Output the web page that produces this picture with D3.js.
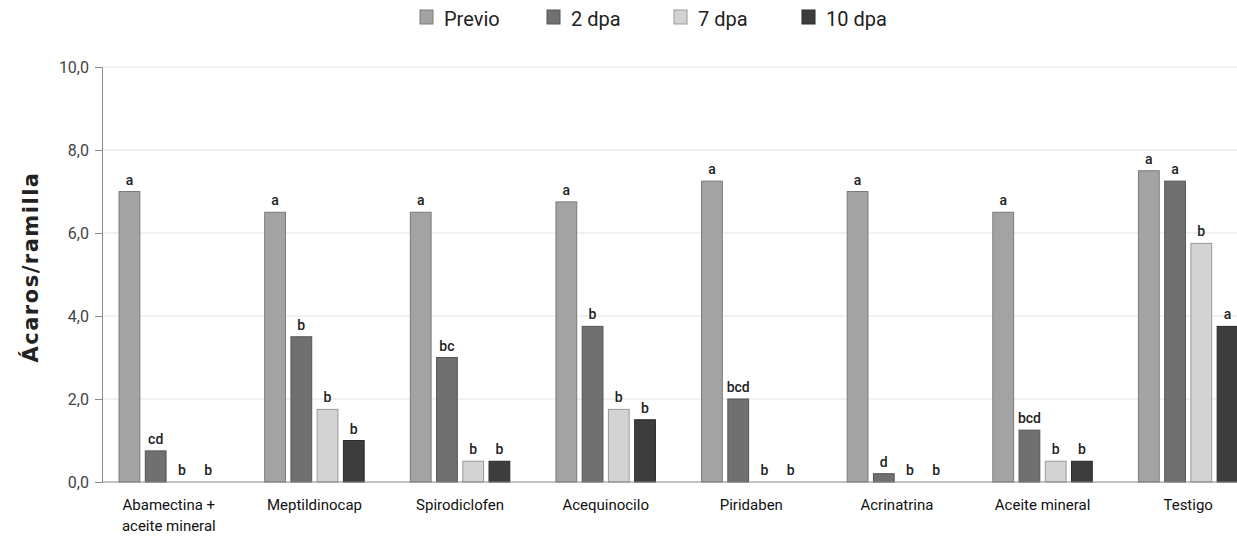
<!DOCTYPE html>
<html>
<head>
<meta charset="utf-8">
<script src="https://cdn.jsdelivr.net/npm/d3@7"></script>
<style>
  body { margin: 0; background: #fff; }
  text { font-family: Roboto, "Liberation Sans", sans-serif; }
</style>
</head>
<body>
<svg id="chart" width="1237" height="536"></svg>
<script>
const categories = ["Abamectina + aceite mineral", "Meptildinocap", "Spirodiclofen", "Acequinocilo",
                    "Piridaben", "Acrinatrina", "Aceite mineral", "Testigo"];
const series = ["Previo", "2 dpa", "7 dpa", "10 dpa"];

const previo = [7.0, 6.5, 6.5, 6.75, 7.25, 7.0, 6.5, 7.5];
const dpa2   = [0.75, 3.5, 3.0, 3.75, 2.0, 0.2, 1.25, 7.25];
const dpa7   = [0, 1.75, 0.5, 1.75, 0, 0, 0.5, 5.75];
const dpa10  = [0, 1.0, 0.5, 1.5, 0, 0, 0.5, 3.75];

const lettersPrevio = ["a", "a", "a", "a", "a", "a", "a", "a"];
const letters2  = ["cd", "b", "bc", "b", "bcd", "d", "bcd", "a"];
const letters7  = ["b", "b", "b", "b", "b", "b", "b", "b"];
const letters10 = ["b", "b", "b", "b", "b", "b", "b", "a"];

const yTicks = [0, 2, 4, 6, 8, 10];

const values = [previo, dpa2, dpa7, dpa10];
const letters = [lettersPrevio, letters2, letters7, letters10];
const colors = ["#a3a3a3", "#707070", "#d3d3d3", "#3d3d3d"];
const strokes = ["#7a7a7a", "#555", "#999", "#2a2a2a"];

const svg = d3.select("#chart"),
      margin = {top: 67, left: 102, bottom: 54};
const height = +svg.attr("height");

const x0 = d3.scaleBand().domain(categories).range([96, 1261])
    .paddingInner(0.31).paddingOuter(0.155);
const x1 = d3.scaleBand().domain(series).range([0, x0.bandwidth()])
    .paddingInner(0.17).paddingOuter(0);
const y = d3.scaleLinear().domain([0, 10]).range([height - margin.bottom, margin.top]);

// gridlines
svg.append("g").selectAll("line")
    .data(yTicks.filter(d => d > 0))
    .join("line")
    .attr("x1", margin.left).attr("x2", 1237)
    .attr("y1", d => y(d)).attr("y2", d => y(d))
    .attr("stroke", "#e4e4e4").attr("stroke-width", 1.2);

// y axis
const yAxis = svg.append("g")
    .attr("transform", `translate(${margin.left},0)`)
    .call(d3.axisLeft(y).tickValues(yTicks).tickSize(7).tickPadding(6)
        .tickFormat(d => d3.format(".1f")(d).replace(".", ",")));
yAxis.select(".domain").attr("stroke", "#888");
yAxis.selectAll(".tick line").attr("stroke", "#888");
yAxis.selectAll(".tick text").attr("font-size", 16).attr("fill", "#444");

// bars
const groups = svg.append("g").selectAll("g")
    .data(categories)
    .join("g")
    .attr("transform", d => `translate(${x0(d)},0)`);

groups.each(function(cat, ci) {
    const g = d3.select(this);
    series.forEach((s, si) => {
        const v = values[si][ci];
        if (v > 0) {
            g.append("rect")
                .attr("x", x1(s) + 0.5)
                .attr("y", y(v))
                .attr("width", x1.bandwidth() - 1)
                .attr("height", y(0) - y(v))
                .attr("fill", colors[si])
                .attr("stroke", strokes[si])
                .attr("stroke-width", 1);
        }
        g.append("text")
            .attr("x", x1(s) + x1.bandwidth() / 2)
            .attr("y", y(v) - 7)
            .attr("text-anchor", "middle")
            .attr("font-size", 14)
            .attr("font-weight", 500)
            .attr("fill", "#222")
            .text(letters[si][ci]);
    });
});

// x axis baseline
svg.append("line")
    .attr("x1", margin.left).attr("x2", 1237)
    .attr("y1", y(0)).attr("y2", y(0))
    .attr("stroke", "#888").attr("stroke-width", 1.2);

// category labels
const catLabels = svg.append("g").selectAll("text")
    .data(categories)
    .join("text")
    .attr("x", d => x0(d) + x0.bandwidth() / 2)
    .attr("y", 510)
    .attr("text-anchor", "middle")
    .attr("font-size", 15)
    .attr("fill", "#111");
catLabels.each(function(d) {
    const t = d3.select(this);
    const parts = d === "Abamectina + aceite mineral" ? ["Abamectina +", "aceite mineral"] : [d];
    parts.forEach((p, i) => {
        t.append("tspan").attr("x", x0(d) + x0.bandwidth() / 2).attr("dy", i ? 21 : 0).text(p);
    });
});

// y axis title
svg.append("text")
    .attr("transform", "rotate(-90)")
    .attr("x", -267)
    .attr("y", 38)
    .attr("text-anchor", "middle")
    .style("font-family", "'DejaVu Sans', sans-serif")
    .style("letter-spacing", "1.5px")
    .attr("font-size", 21)
    .attr("font-weight", 700)
    .attr("fill", "#222")
    .text("Ácaros/ramilla");

// legend
const legendX = [420, 547, 674, 802];
const legend = svg.append("g").selectAll("g")
    .data(series)
    .join("g")
    .attr("transform", (d, i) => `translate(${legendX[i]},10)`);
legend.append("rect")
    .attr("width", 13).attr("height", 14)
    .attr("fill", (d, i) => colors[i])
    .attr("stroke", (d, i) => strokes[i]);
legend.append("text")
    .attr("x", 24).attr("y", 16)
    .attr("font-size", 20)
    .attr("fill", "#222")
    .text(d => d);
</script>
</body>
</html>
